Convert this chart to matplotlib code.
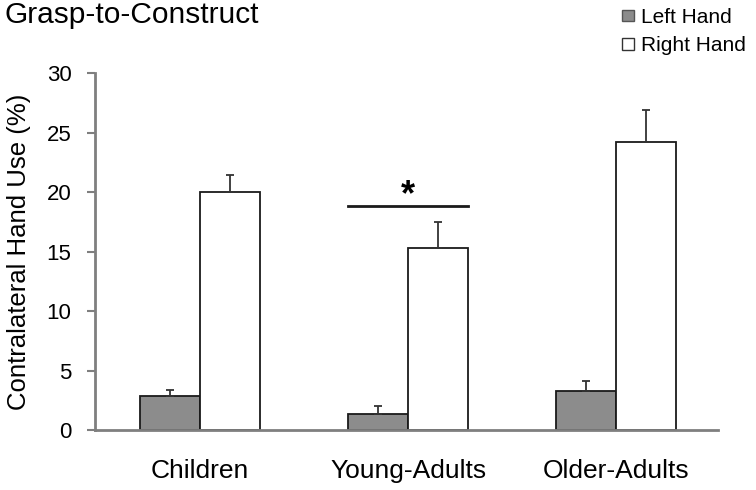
import numpy as np
import matplotlib
matplotlib.use('Agg')
import matplotlib.pyplot as plt
from matplotlib.patches import Patch

groups = ['Children', 'Young-Adults', 'Older-Adults']
left_hand = [2.85, 1.35, 3.25]
right_hand = [20.0, 15.3, 24.2]
left_err = [0.5, 0.65, 0.85]
right_err = [1.45, 2.15, 2.65]
sig_level = 18.8

plt.rcParams['font.family'] = ['Liberation Sans', 'DejaVu Sans']

fig = plt.figure(figsize=(7.56, 4.9), dpi=100)
ax = fig.add_axes([0.1257, 0.1224, 0.824, 0.7286])

x = np.arange(len(groups))
w = 0.288
gray = '#8c8c8c'
axcol = '#7f7f7f'

ax.bar(x - w/2, left_hand, w, color=gray, edgecolor='#1a1a1a', lw=1.3,
       yerr=[np.zeros(3), left_err], error_kw=dict(ecolor='#333333', elinewidth=1.3, capsize=3, capthick=1.3))
ax.bar(x + w/2, right_hand, w, color='white', edgecolor='#1a1a1a', lw=1.3,
       yerr=[np.zeros(3), right_err], error_kw=dict(ecolor='#333333', elinewidth=1.3, capsize=3, capthick=1.3))

# significance marker over young adults
ax.plot([x[1] - w, x[1] + w], [sig_level, sig_level], color='#1a1a1a', lw=2)
ax.text(x[1], sig_level - 0.6, '*', ha='center', va='bottom', fontsize=26, fontweight='bold')

ax.set_xlim(-0.505, 2.49)
ax.set_ylim(0, 30)
ax.set_yticks(range(0, 31, 5))
ax.set_xticks(x)
ax.set_xticklabels(groups, fontsize=19)
ax.tick_params(axis='x', length=0, pad=21)
ax.tick_params(axis='y', labelsize=16, length=6, width=1.5, color=axcol, pad=11)
for s in ['top', 'right']:
    ax.spines[s].set_visible(False)
for s in ['left', 'bottom']:
    ax.spines[s].set_color(axcol)
    ax.spines[s].set_linewidth(2)
ax.set_ylabel('Contralateral Hand Use (%)', fontsize=18.5, labelpad=11)

fig.text(0.006, 0.97, 'Grasp-to-Construct', fontsize=21.5, ha='left', va='center')

handles = [Patch(facecolor=gray, edgecolor='#555555'), Patch(facecolor='white', edgecolor='#333333')]
fig.legend(handles, ['Left Hand', 'Right Hand'], loc='upper right', bbox_to_anchor=(1.0, 1.005),
           frameon=False, fontsize=15, handlelength=0.6, handleheight=0.45, handletextpad=0.3,
           labelspacing=0.45, borderaxespad=0.1)

fig.savefig('out.png', dpi=100)
